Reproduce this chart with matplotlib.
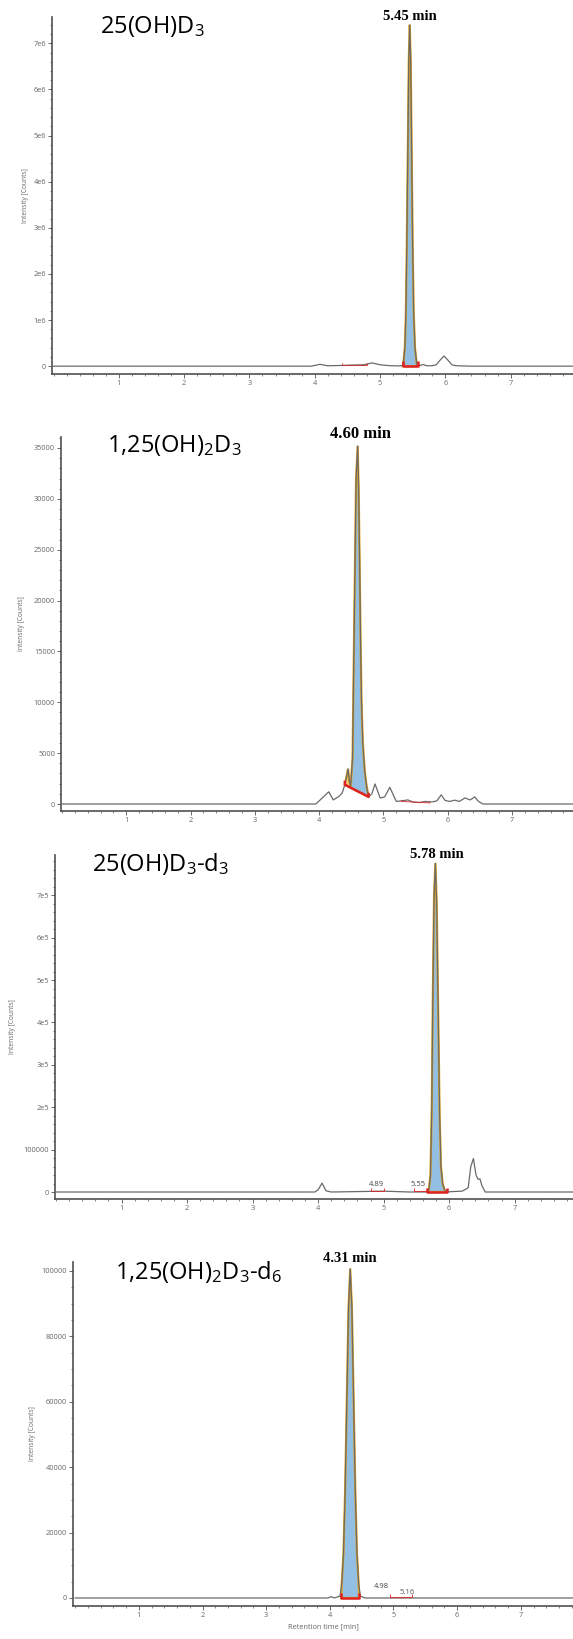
import matplotlib
matplotlib.use("Agg")
import numpy as np
import matplotlib.pyplot as plt
from matplotlib.ticker import AutoMinorLocator

W, H, DPI = 573, 1639, 100

TRACE = "#6a6a6a"
AXIS = "#505050"
TXT = "#666666"
RED = "#dd2222"
BLUE = "#92bfe2"
ORANGE = "#e3a21a"
SHOULDER = "#f3c77a"

X_TICKS = [1, 2, 3, 4, 5, 6, 7]

# --- 25(OH)D3 ---
p1_time = [0.0, 3.95, 4.08, 4.20, 4.40, 4.60, 4.75, 4.88, 5.00, 5.15, 5.30, 5.355, 5.38,
           5.395, 5.41, 5.425, 5.44, 5.455, 5.47, 5.485, 5.50, 5.515, 5.535, 5.565, 5.60,
           5.66, 5.72, 5.80, 5.86, 5.92, 5.98, 6.04, 6.10, 6.16, 6.25, 6.40, 8.0]
p1_counts = [0, 0, 40e3, 8e3, 15e3, 25e3, 30e3, 70e3, 30e3, 10e3, 5e3, 20e3, 0.4e6,
             1.1e6, 2.6e6, 4.6e6, 6.6e6, 7.4e6, 6.6e6, 4.6e6, 2.6e6, 1.2e6, 0.4e6, 20e3, 10e3,
             35e3, 8e3, 10e3, 30e3, 130e3, 220e3, 130e3, 30e3, 10e3, 5e3, 0, 0]
p1_integ_time = [5.35, 5.58]
p1_integ_base = [0, 0]
p1_yticks = [0, 1e6, 2e6, 3e6, 4e6, 5e6, 6e6, 7e6]
p1_ylabels = ["0", "1e6", "2e6", "3e6", "4e6", "5e6", "6e6", "7e6"]

# --- 1,25(OH)2D3 ---
p2_time = [0.0, 3.95, 4.05, 4.15, 4.22, 4.31, 4.36, 4.40, 4.43, 4.45,
           4.47, 4.49, 4.52, 4.545, 4.575, 4.60, 4.615, 4.63, 4.645, 4.66,
           4.68, 4.71, 4.74, 4.77, 4.82, 4.87, 4.95, 5.02, 5.10, 5.20,
           5.28, 5.38, 5.46, 5.55, 5.65, 5.75, 5.83, 5.90, 5.96, 6.03,
           6.11, 6.18, 6.27, 6.35, 6.42, 6.48, 6.55, 8.0]
p2_counts = [0, 0, 600, 1200, 400, 750, 1100, 1900, 2800, 3450,
             2300, 1800, 4500, 17000, 32000, 35200, 31000, 24000, 16000, 10000,
             6000, 3200, 1700, 700, 1000, 1970, 590, 700, 1640, 260,
             300, 400, 200, 150, 250, 200, 300, 900, 350, 250,
             380, 250, 600, 400, 700, 250, 0, 0]
p2_shoulder_time = [4.40, 4.49]
p2_shoulder_base = [1900, 1610]
p2_integ_time = [4.49, 4.77]
p2_integ_base = [1610, 700]
p2_yticks = [0, 5000, 10000, 15000, 20000, 25000, 30000, 35000]
p2_ylabels = [str(v) for v in p2_yticks]

# --- 25(OH)D3-d3 ---
p3_time = [0.0, 3.95, 4.00, 4.06, 4.12, 4.20, 5.00, 5.40, 5.66, 5.69,
           5.715, 5.735, 5.75, 5.77, 5.79, 5.81, 5.835, 5.855, 5.875, 5.90,
           5.93, 5.96, 6.05, 6.20, 6.29, 6.33, 6.37, 6.41, 6.44, 6.47,
           6.50, 6.55, 8.0]
p3_counts = [0, 0, 5000, 21000, 3000, 0, 2000, 0, 0, 5000,
             40000, 200000, 450000, 700000, 776000, 680000, 400000, 180000, 60000, 20000,
             5000, 0, 1000, 2000, 10000, 60000, 79000, 40000, 30000, 31000,
             15000, 0, 0]
p3_integ_time = [5.66, 5.96]
p3_integ_base = [0, 0]
p3_yticks = [0, 1e5, 2e5, 3e5, 4e5, 5e5, 6e5, 7e5]
p3_ylabels = ["0", "100000", "2e5", "3e5", "4e5", "5e5", "6e5", "7e5"]
p3_minor_names = ["4.89", "5.55"]
p3_minor_time = [4.89, 5.53]
p3_minor_span = [(4.81, 5.00), (5.46, 5.66)]

# --- 1,25(OH)2D3-d6 ---
p4_time = [0.0, 3.97, 4.02, 4.07, 4.16, 4.1875, 4.214, 4.24, 4.267, 4.2935,
           4.32, 4.3465, 4.373, 4.40, 4.426, 4.4525, 4.48, 4.55, 8.0]
p4_counts = [0, 0, 400, 0, 600, 4400, 13600, 32700, 61100, 88800,
             100700, 88800, 61100, 32700, 13600, 4400, 600, 0, 0]
p4_integ_time = [4.18, 4.46]
p4_integ_base = [0, 0]
p4_yticks = [0, 20000, 40000, 60000, 80000, 100000]
p4_ylabels = [str(v) for v in p4_yticks]
p4_minor_names = ["4.98", "5.16"]
p4_minor_time = [4.81, 5.21]
p4_minor_span = [(4.95, 5.29)]

fig = plt.figure(figsize=(W / DPI, H / DPI), dpi=DPI)


def px_axes(left, top, right, bottom):
    return fig.add_axes([left / W, 1 - bottom / H, (right - left) / W, (bottom - top) / H])


def style(ax, xlim, ylim, yticks, ylabels, label_x):
    ax.set_xlim(*xlim)
    ax.set_ylim(*ylim)
    for s in ("top", "right"):
        ax.spines[s].set_visible(False)
    for s in ("left", "bottom"):
        ax.spines[s].set_color(AXIS)
        ax.spines[s].set_linewidth(1.2)
    ax.set_xticks(X_TICKS)
    ax.set_xticklabels([str(v) for v in X_TICKS])
    ax.xaxis.set_minor_locator(AutoMinorLocator(5))
    ax.set_yticks(yticks)
    ax.set_yticklabels(ylabels)
    ax.yaxis.set_minor_locator(AutoMinorLocator())
    ax.tick_params(which="major", length=2.8, width=0.6, color=AXIS, labelsize=5.3,
                   labelcolor=TXT, pad=1.5)
    ax.tick_params(which="minor", length=1.6, width=0.5, color=AXIS)
    for lab in ax.get_xticklabels() + ax.get_yticklabels():
        lab.set_fontfamily("Open Sans")
    ax.set_ylabel("Intensity [Counts]", fontsize=4.8, color=TXT, family="Open Sans")
    ax.yaxis.set_label_coords(label_x, 0.5)


def fill_peak(ax, t, c, span, base, face):
    t = np.asarray(t)
    c = np.asarray(c)
    m = (t > span[0]) & (t < span[1])
    xs = [span[0]] + list(t[m]) + [span[1]]
    ys = [base[0]] + list(c[m]) + [base[1]]
    ax.fill(xs, ys, facecolor=face, edgecolor=ORANGE, lw=1.6, zorder=2)


def integ_bar(ax, span, base, h, lw=1.8):
    ax.plot([span[0], span[0], span[1], span[1]],
            [base[0] + h, base[0], base[1], base[1] + h],
            color=RED, lw=lw, zorder=4, solid_capstyle="butt")


def draw_trace(ax, t, c):
    ax.plot(t, c, color=TRACE, lw=0.9, zorder=3)


def title(x, y, s):
    fig.text(x / W, 1 - y / H, s, ha="left", va="top", fontsize=17,
             family="Open Sans", color="black")


def peak_label(ax, x, y, s, size=10.5, dx=0, dy=1.5):
    ax.annotate(s, xy=(x, y), xytext=(dx, dy), textcoords="offset points",
                ha="center", va="bottom", fontsize=size, fontweight="bold",
                family="Liberation Serif", annotation_clip=False)


# panel 1
ax1 = px_axes(52, 17, 573, 374)
style(ax1, (-0.023, 7.955), (-0.17e6, 7.57e6), p1_yticks, p1_ylabels, -0.045)
fill_peak(ax1, p1_time, p1_counts, p1_integ_time, p1_integ_base, BLUE)
draw_trace(ax1, p1_time, p1_counts)
integ_bar(ax1, p1_integ_time, p1_integ_base, 0.12e6)
integ_bar(ax1, (4.42, 4.80), (25e3, 25e3), 40e3, lw=0.6)
peak_label(ax1, 5.455, 7.4e6, "5.45 min", dy=1)
title(100, 14, r"25(OH)D$\mathregular{_3}$")

# panel 2
ax2 = px_axes(61, 437, 573, 811)
style(ax2, (-0.016, 7.95), (-688, 36080), p2_yticks, p2_ylabels, -0.07)
fill_peak(ax2, p2_time, p2_counts, p2_shoulder_time, p2_shoulder_base, SHOULDER)
fill_peak(ax2, p2_time, p2_counts, p2_integ_time, p2_integ_base, BLUE)
draw_trace(ax2, p2_time, p2_counts)
integ_bar(ax2, (p2_shoulder_time[0], p2_integ_time[1]),
          (p2_shoulder_base[0], p2_integ_base[1]), 400)
integ_bar(ax2, (5.28, 5.72), (250, 100), 150, lw=0.6)
peak_label(ax2, 4.60, 35200, "4.60 min", size=12, dx=2, dy=2.5)
title(107, 433, r"1,25(OH)$\mathregular{_2}$D$\mathregular{_3}$")

# panel 3
ax3 = px_axes(55, 855, 573, 1199)
style(ax3, (-0.015, 7.89), (-16500, 795000), p3_yticks, p3_ylabels, -0.075)
fill_peak(ax3, p3_time, p3_counts, p3_integ_time, p3_integ_base, BLUE)
draw_trace(ax3, p3_time, p3_counts)
integ_bar(ax3, p3_integ_time, p3_integ_base, 9000)
for name, tt, sp in zip(p3_minor_names, p3_minor_time, p3_minor_span):
    integ_bar(ax3, sp, (1500, 1500), 7000, lw=0.6)
    ax3.text(tt, 9000, name, ha="center", va="bottom", fontsize=5.5, color="#444444",
             family="Open Sans")
peak_label(ax3, 5.79, 776000, "5.78 min", dx=1, dy=1.5)
title(92, 851, r"25(OH)D$\mathregular{_3}$-d$\mathregular{_3}$")

# panel 4
ax4 = px_axes(73, 1262, 573, 1606)
style(ax4, (-0.035, 7.82), (-2450, 102750), p4_yticks, p4_ylabels, -0.075)
fill_peak(ax4, p4_time, p4_counts, p4_integ_time, p4_integ_base, BLUE)
draw_trace(ax4, p4_time, p4_counts)
integ_bar(ax4, p4_integ_time, p4_integ_base, 1500)
for sp in p4_minor_span:
    integ_bar(ax4, sp, (200, 200), 900, lw=0.6)
ax4.text(p4_minor_time[0], 2500, p4_minor_names[0], ha="center", va="bottom",
         fontsize=5.5, color="#444444", family="Open Sans")
ax4.text(p4_minor_time[1], 600, p4_minor_names[1], ha="center", va="bottom",
         fontsize=5.5, color="#555555", family="Open Sans")
peak_label(ax4, 4.32, 100700, "4.31 min", dx=0, dy=2.5)
title(115, 1259, r"1,25(OH)$\mathregular{_2}$D$\mathregular{_3}$-d$\mathregular{_6}$")
ax4.set_xlabel("Retention time [min]", fontsize=5.3, color=TXT, family="Open Sans",
               labelpad=3)

fig.savefig("out.png", dpi=DPI)
